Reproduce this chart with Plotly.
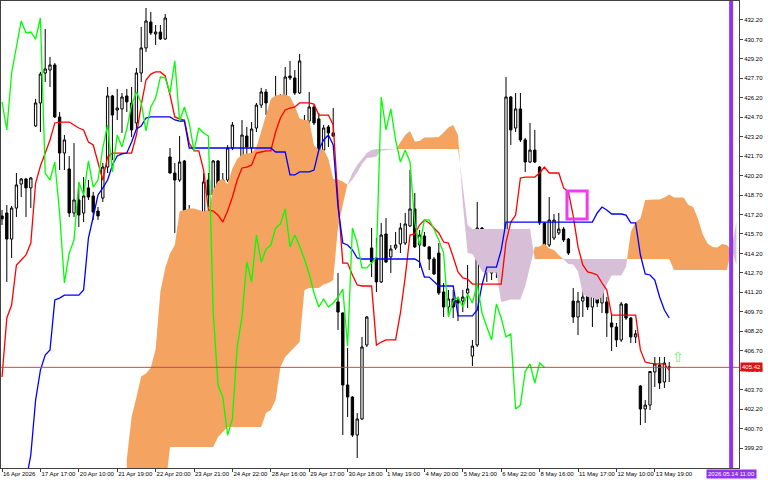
import plotly.graph_objects as go

# ---------------- data ----------------
bars = list(range(140))

opens = [417.09, 417.32, 415.31, 417.70, 419.55, 419.94, 419.25, 424.03, 425.80, 428.11,
         428.34, 428.73, 424.72, 421.94, 420.71, 417.32, 418.32, 417.32, 419.25, 418.63,
         417.47, 418.47, 420.86, 426.34, 425.26, 425.34, 426.34, 425.80, 424.26, 428.11,
         430.04, 432.04, 431.12, 431.27, 430.73, 421.64, 420.40, 419.86, 421.33, 417.32,
         412.00, 414.85, 415.47, 419.86, 418.71, 421.33, 419.32, 419.86, 422.33, 418.17,
         420.48, 423.25, 422.33, 423.87, 425.64, 426.65, 422.17, 423.72, 425.49, 426.18,
         427.88, 427.73, 426.57, 422.02, 424.41, 425.49, 424.57, 422.17, 423.95, 423.49,
         410.46, 409.61, 404.06, 403.13, 400.20, 401.44, 407.14, 414.62, 413.85, 412.00,
         415.70, 413.93, 414.62, 414.93, 415.00, 416.32, 417.63, 414.85, 415.54, 414.70,
         413.77, 414.23, 411.23, 410.07, 410.69, 410.61, 410.53, 411.15, 406.29, 407.14,
         416.16, 414.85, 412.69, 412.77, 413.08, 413.85, 426.26, 423.87, 425.34, 422.95,
         421.25, 422.17, 420.86, 416.55, 414.85, 415.39, 415.78, 416.08, 415.31, 410.53,
         409.30, 410.53, 410.92, 410.07, 411.15, 410.38, 410.46, 408.84, 408.53, 407.53,
         410.30, 409.22, 407.76, 403.98, 402.21, 402.51, 405.06, 405.60, 404.29, 405.45]
highs = [417.55, 417.93, 417.86, 420.40, 420.02, 420.02, 420.09, 426.11, 428.19, 431.50,
         429.35, 428.88, 425.10, 423.33, 421.71, 422.71, 419.63, 420.09, 419.86, 418.94,
         417.78, 421.17, 427.03, 426.42, 426.88, 426.57, 426.88, 427.03, 428.50, 431.66,
         433.12, 432.81, 431.81, 431.81, 432.66, 422.33, 421.17, 423.25, 421.40, 417.93,
         414.85, 416.62, 420.40, 420.40, 421.40, 421.40, 420.40, 422.56, 424.33, 420.79,
         424.49, 423.95, 424.33, 425.80, 426.96, 426.88, 423.95, 427.88, 426.49, 428.57,
         429.04, 428.34, 429.58, 424.87, 426.65, 425.64, 425.03, 424.10, 424.10, 425.41,
         412.69, 409.65, 406.91, 403.20, 401.90, 407.76, 409.38, 416.16, 415.39, 416.55,
         416.93, 414.85, 415.85, 416.55, 417.32, 420.63, 418.86, 416.01, 415.85, 414.77,
         413.93, 415.00, 411.92, 411.38, 411.38, 410.84, 411.38, 413.31, 407.53, 418.17,
         416.24, 415.24, 413.54, 413.85, 414.23, 427.80, 426.34, 426.57, 426.57, 423.10,
         424.26, 423.72, 420.94, 416.62, 418.55, 417.24, 417.32, 416.24, 415.39, 411.54,
         411.23, 411.38, 411.38, 411.38, 411.77, 412.00, 410.84, 409.61, 408.84, 410.46,
         410.38, 409.30, 408.30, 404.06, 402.90, 405.14, 406.22, 406.22, 406.22, 405.83]
lows = [416.39, 412.00, 413.85, 417.01, 418.55, 417.01, 417.70, 423.95, 423.56, 427.42,
        427.03, 424.64, 420.63, 420.63, 417.01, 417.01, 416.24, 416.62, 418.32, 416.78,
        416.78, 418.17, 420.40, 421.40, 424.49, 423.49, 425.10, 423.18, 423.87, 427.42,
        429.73, 431.04, 430.27, 430.66, 430.66, 420.35, 415.78, 419.71, 417.16, 411.61,
        411.38, 414.08, 415.40, 417.78, 418.32, 418.32, 418.86, 419.71, 422.17, 417.01,
        419.71, 421.64, 421.40, 423.56, 425.41, 424.87, 422.02, 423.49, 424.72, 426.03,
        427.57, 426.42, 426.49, 421.94, 423.49, 424.10, 420.25, 422.02, 422.41, 423.18,
        408.30, 400.20, 401.59, 400.05, 398.43, 401.36, 406.99, 412.38, 411.23, 411.92,
        413.46, 412.69, 414.47, 414.23, 414.85, 416.24, 414.62, 413.08, 414.70, 412.92,
        412.54, 411.00, 409.30, 409.38, 409.22, 408.99, 409.68, 409.99, 405.52, 406.99,
        414.85, 412.00, 412.15, 412.31, 412.38, 413.69, 422.56, 423.56, 422.79, 420.48,
        421.17, 421.17, 416.39, 414.31, 414.70, 415.24, 415.62, 415.08, 414.08, 408.84,
        407.91, 409.30, 409.84, 408.53, 410.07, 409.61, 407.76, 406.68, 406.99, 407.37,
        409.07, 407.29, 407.29, 400.97, 401.13, 402.13, 403.90, 403.75, 403.83, 404.29]
closes = [416.86, 415.31, 417.70, 419.48, 419.94, 419.25, 420.02, 425.80, 428.03, 428.42,
          428.73, 424.72, 421.94, 422.95, 417.32, 418.32, 417.16, 418.63, 418.55, 417.39,
          417.09, 420.86, 426.34, 424.87, 425.41, 426.26, 425.88, 423.72, 428.11, 430.04,
          432.12, 431.20, 431.27, 430.73, 432.35, 420.40, 419.86, 421.25, 417.32, 411.92,
          414.23, 415.24, 419.71, 418.71, 421.33, 419.32, 419.86, 422.33, 424.10, 420.48,
          423.33, 422.41, 423.79, 425.64, 426.65, 425.80, 423.64, 425.49, 426.18, 427.80,
          427.73, 426.57, 429.04, 424.41, 425.49, 424.26, 422.10, 423.87, 423.49, 423.25,
          409.68, 404.06, 403.13, 400.20, 401.44, 406.99, 409.30, 413.54, 412.00, 415.62,
          413.54, 414.54, 414.85, 416.16, 416.47, 417.63, 414.70, 415.62, 414.77, 413.77,
          412.62, 411.15, 410.07, 410.69, 410.07, 410.38, 410.84, 411.46, 407.06, 416.16,
          415.00, 413.08, 413.08, 413.46, 413.93, 426.26, 423.72, 425.34, 422.95, 421.25,
          422.17, 421.25, 416.55, 414.85, 416.78, 416.78, 416.08, 415.24, 414.23, 409.30,
          410.53, 410.84, 410.07, 411.07, 410.38, 411.84, 409.61, 408.53, 407.53, 410.30,
          409.22, 407.76, 408.00, 402.21, 402.51, 405.10, 405.68, 404.21, 405.75, 405.42]

tenkan = [404.67, 409.23, 410.22, 413.31, 413.69, 414.08, 415.00, 419.63, 420.94, 422.02,
          422.95, 424.26, 424.33, 424.33, 424.33, 424.10, 423.87, 423.72, 422.79, 422.56,
          421.17, 419.86, 421.64, 421.94, 421.94, 421.94, 421.94, 421.94, 423.33, 425.64,
          427.57, 428.03, 428.19, 428.19, 427.88, 426.42, 424.72, 424.57, 424.49, 422.71,
          422.10, 422.10, 420.63, 417.55, 417.47, 417.16, 416.62, 417.47, 418.55, 419.86,
          420.79, 420.86, 421.02, 421.94, 422.02, 422.10, 422.10, 423.56, 424.64, 425.26,
          425.41, 425.49, 425.80, 425.80, 425.80, 425.72, 424.87, 424.87, 424.87, 424.10,
          418.32, 413.46, 413.46, 412.54, 411.77, 411.69, 411.69, 411.69, 407.14, 407.37,
          407.53, 407.53, 407.53, 409.61, 412.38, 415.62, 415.70, 416.39, 416.78, 416.55,
          416.16, 415.78, 415.08, 415.00, 413.93, 412.77, 412.31, 412.23, 411.84, 411.84,
          411.84, 411.84, 411.84, 411.84, 411.84, 415.08, 416.62, 417.16, 420.02, 420.09,
          420.09, 420.09, 420.40, 420.86, 420.40, 420.40, 420.40, 419.25, 418.94, 417.09,
          414.70, 413.31, 412.77, 412.69, 412.54, 411.92, 411.38, 409.45, 409.45, 409.45,
          409.45, 409.45, 409.45, 406.76, 405.83, 405.75, 405.68, 405.68, 405.68, 405.21]

kijun = [392.00, 394.00, 396.00, 396.10, 396.20, 396.70, 398.66, 402.90, 405.21, 406.37,
         406.76, 410.61, 410.76, 410.99, 410.99, 410.99, 410.99, 411.38, 415.39, 417.01,
         418.71, 419.25, 419.86, 421.02, 421.71, 421.87, 421.94, 422.79, 423.79, 424.03,
         424.64, 424.72, 424.72, 424.72, 424.72, 424.72, 424.49, 424.41, 424.41, 422.33,
         422.33, 422.33, 422.33, 422.33, 422.33, 422.33, 422.33, 422.33, 422.33, 422.33,
         422.33, 422.33, 422.33, 422.33, 422.33, 422.33, 422.33, 422.02, 422.02, 422.02,
         420.25, 420.25, 420.48, 420.48, 420.48, 420.63, 422.17, 422.95, 423.33, 422.56,
         417.78, 415.00, 414.85, 414.47, 413.85, 413.77, 413.77, 413.77, 413.77, 413.77,
         413.77, 413.77, 413.77, 413.77, 413.77, 413.77, 413.77, 413.54, 412.38, 412.38,
         412.00, 411.69, 411.69, 411.69, 411.69, 409.38, 409.38, 409.38, 409.38, 409.84,
         411.77, 413.15, 413.15, 413.15, 414.47, 416.62, 416.62, 416.62, 416.62, 416.62,
         416.62, 416.62, 416.62, 416.62, 416.62, 416.62, 416.62, 416.62, 416.62, 416.62,
         416.62, 416.62, 416.62, 416.62, 417.32, 417.78, 417.55, 417.24, 417.24, 417.24,
         417.16, 416.55, 416.55, 414.08, 412.62, 412.54, 412.15, 410.84, 409.84, 409.22]

# Senkou span B as displayed on bars 26 .. 153
span_b = [396.00, 396.00, 396.00, 396.00, 396.00, 396.00, 396.00, 396.00, 396.00,
          399.27, 399.27, 399.27, 399.27, 399.27, 399.27, 399.27, 399.27, 399.27, 399.27,
          400.05, 400.43,
          400.82, 400.82, 400.82, 400.82, 400.82, 400.82, 400.82, 400.82,
          401.90, 402.13, 402.90, 405.44, 406.22, 406.60, 406.99, 407.37,
          411.38, 411.54, 411.54, 411.54, 411.80, 411.92, 412.15,
          416.24, 417.93, 419.60, 420.40, 421.02, 421.48, 421.94, 422.17,
          422.25, 422.25, 422.25, 422.25, 422.25, 422.25, 422.25, 422.25, 422.25,
          422.25, 422.25, 422.25, 422.25, 422.25, 422.25, 422.25, 422.25, 422.25,
          419.50, 416.40,
          416.08, 416.08, 416.08, 416.08, 416.08, 416.08, 416.08, 416.08, 416.08,
          416.08, 416.08, 416.08, 416.08,
          413.77, 413.77, 413.77, 413.77, 413.77, 413.77, 413.77, 413.77, 413.77, 413.77,
          413.77, 413.77, 413.77, 413.77, 413.77, 413.77, 413.77, 413.77, 413.77, 413.77,
          413.77, 413.77, 413.77, 413.77, 413.77, 413.77, 413.77, 413.77, 413.77,
          412.92, 412.92, 412.92, 412.92, 412.92, 412.92, 412.92, 412.92, 412.92, 412.92,
          412.92, 412.92,
          414.58, 416.62]

ichimoku_shift = 26

tick_bars = [0, 8, 16, 24, 32, 40, 48, 56, 64, 72, 80, 88, 96, 104, 112, 120, 128, 136]
tick_labels = ["16 Apr 2026", "17 Apr 17:00", "20 Apr 10:00", "21 Apr 19:00", "22 Apr 20:00",
               "23 Apr 21:00", "24 Apr 22:00", "28 Apr 16:00", "29 Apr 17:00", "30 Apr 18:00",
               "1 May 19:00", "4 May 20:00", "5 May 21:00", "6 May 22:00", "8 May 16:00",
               "11 May 17:00", "12 May 10:00", "13 May 19:00"]
price_ticks = [399.20, 400.70, 402.20, 403.70, 405.20, 406.70, 408.20, 409.70, 411.20,
               412.70, 414.20, 415.70, 417.20, 418.70, 420.20, 421.70, 423.20, 424.70,
               426.20, 427.70, 429.20, 430.70, 432.20]

# chart objects
vline_bar = 151.9
vline_label = "2026.05.14 11:00"
rect_bars = (117.7, 121.9)
rect_prices = (416.86, 419.01)
arrow_bar = 140.8
arrow_price = 406.22

x_range = [-0.21, 153.54]
y_range = [397.66, 433.66]

# ---------------- figure ----------------
FONT = "Liberation Sans"
fig = go.Figure()

# cloud: span A from tenkan/kijun, shifted forward
cloud_x = [i + ichimoku_shift for i in range(len(span_b))]
span_a = [(tenkan[i] + kijun[i]) / 2 for i in range(len(span_b))]

segs = []
cur = [(cloud_x[0], span_a[0], span_b[0])]
sign = 1 if span_a[0] >= span_b[0] else -1
for j in range(1, len(cloud_x)):
    d0 = span_a[j - 1] - span_b[j - 1]
    d1 = span_a[j] - span_b[j]
    if d0 * d1 < 0:
        t = d0 / (d0 - d1)
        xc = cloud_x[j - 1] + t * (cloud_x[j] - cloud_x[j - 1])
        yc = span_a[j - 1] + t * (span_a[j] - span_a[j - 1])
        cur.append((xc, yc, yc))
        segs.append((sign, cur))
        cur = [(xc, yc, yc)]
        sign = -sign
    elif d0 == 0 and d1 != 0:
        sign = 1 if d1 > 0 else -1
    cur.append((cloud_x[j], span_a[j], span_b[j]))
segs.append((sign, cur))

for s_val, color in ((1, "#F4A460"), (-1, "#D8BFD8")):
    px, py = [], []
    for s, pts in segs:
        if s != s_val:
            continue
        px += [p[0] for p in pts] + [p[0] for p in reversed(pts)] + [None]
        py += [p[1] for p in pts] + [p[2] for p in reversed(pts)] + [None]
    fig.add_trace(go.Scatter(x=px, y=py, mode="lines", fill="toself", fillcolor=color,
                             line=dict(width=0, color=color), hoverinfo="skip"))

fig.add_trace(go.Candlestick(
    x=bars, open=opens, high=highs, low=lows, close=closes,
    increasing=dict(line=dict(color="#000000", width=1), fillcolor="#FFFFFF"),
    decreasing=dict(line=dict(color="#000000", width=1), fillcolor="#000000"),
    whiskerwidth=0, hoverinfo="skip"))

fig.add_trace(go.Scatter(x=bars, y=tenkan, mode="lines",
                         line=dict(color="#FF0000", width=1.3), hoverinfo="skip"))
fig.add_trace(go.Scatter(x=bars, y=kijun, mode="lines",
                         line=dict(color="#0000FF", width=1.3), hoverinfo="skip"))
chikou_x = bars[:len(bars) - ichimoku_shift]
chikou_y = closes[ichimoku_shift:]
fig.add_trace(go.Scatter(x=chikou_x, y=chikou_y, mode="lines",
                         line=dict(color="#00FF00", width=1.3), hoverinfo="skip"))

last_price = closes[-1]
shapes = [
    dict(type="line", xref="paper", x0=0, x1=1, yref="y", y0=last_price, y1=last_price,
         line=dict(color="#C84848", width=1), layer="above"),
    dict(type="rect", xref="x", yref="y", x0=rect_bars[0], x1=rect_bars[1],
         y0=rect_prices[0], y1=rect_prices[1], line=dict(color="#F03CF0", width=3)),
    dict(type="line", xref="x", yref="paper", x0=vline_bar, x1=vline_bar, y0=0, y1=1,
         line=dict(color="#9333EA", width=4)),
]

annotations = [
    dict(xref="paper", x=1, yref="y", y=last_price, text="%.2f" % last_price,
         showarrow=False, xanchor="left", yanchor="middle", xshift=1,
         bgcolor="#E01010", font=dict(color="white", size=6, family=FONT), borderpad=1),
    dict(xref="x", x=vline_bar, yref="paper", y=0, text=vline_label, showarrow=False,
         xanchor="center", yanchor="top", yshift=-1, bgcolor="#9333EA",
         font=dict(color="white", size=6, family=FONT), borderpad=1),
    dict(xref="x", x=arrow_bar, yref="y", y=arrow_price, text="⇧", showarrow=False,
         font=dict(color="#70F070", size=14, family="DejaVu Sans")),
]

fig.update_layout(
    width=768, height=480,
    margin=dict(l=1, r=29, t=1, b=12, pad=0),
    paper_bgcolor="white", plot_bgcolor="white",
    showlegend=False,
    shapes=shapes, annotations=annotations,
    font=dict(family=FONT, size=6, color="#000000"),
    xaxis=dict(range=x_range, tickmode="array", tickvals=tick_bars, ticktext=tick_labels,
               tickangle=0, ticks="outside", ticklen=3, tickcolor="#404040", showgrid=False,
               zeroline=False, showline=True, linecolor="#404040", mirror=True,
               ticklabelposition="outside right", tickfont=dict(size=6, family=FONT),
               rangeslider=dict(visible=False), automargin=False, fixedrange=True),
    yaxis=dict(range=y_range, side="right", tickmode="array", tickvals=price_ticks,
               ticktext=["%.2f" % v for v in price_ticks], ticks="outside", ticklen=3,
               tickcolor="#404040", showgrid=False, zeroline=False, showline=True,
               linecolor="#404040", mirror=True, tickfont=dict(size=6, family=FONT),
               automargin=False, fixedrange=True),
)

fig.write_html("out.html", config={"displayModeBar": False},
               post_script="document.body.style.margin='0px';"
                           "document.body.style.overflow='hidden';")
